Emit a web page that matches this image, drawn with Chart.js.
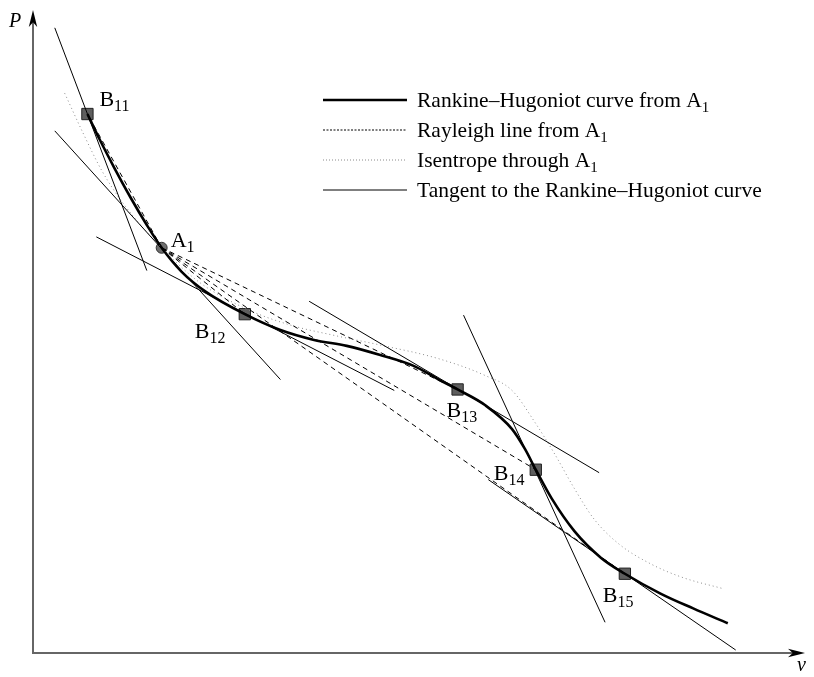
<!DOCTYPE html>
<html>
<head>
<meta charset="utf-8">
<script src="https://cdn.jsdelivr.net/npm/chart.js@4/dist/chart.umd.min.js"></script>
<style>
  html, body { margin: 0; padding: 0; background: #fff; }
  canvas { display: block; }
</style>
</head>
<body>
<canvas id="chart" width="814" height="677"></canvas>
<script>
// P–v plane: specific volume v (horizontal) against pressure P (vertical).

// Rankine–Hugoniot curve centred on A1
const hugoniotV = [5.5, 6.7, 8.2, 9.9, 11.5, 13.0, 15.0, 17.4, 21.4, 25.0, 28.4, 31.7, 35.0, 38.4, 41.0, 42.9, 45.7, 48.4, 49.7, 50.8, 52.4, 54.7, 57.4, 59.8, 63.4, 66.7, 70.2];
const hugoniotP = [54.4, 51.9, 49.0, 45.9, 43.2, 40.9, 38.5, 36.5, 34.2, 32.6, 31.6, 31.0, 30.1, 29.0, 27.6, 26.6, 25.0, 22.6, 20.6, 18.5, 15.6, 12.3, 9.6, 8.0, 6.0, 4.5, 3.0];

// Isentrope through A1
const isentropeV = [3.2, 5.0, 7.0, 9.4, 13.0, 16.7, 21.4, 26.0, 30.7, 35.0, 41.0, 45.7, 48.4, 50.7, 52.7, 54.7, 56.7, 59.2, 62.4, 65.7, 69.7];
const isentropeP = [56.5, 52.6, 48.6, 45.0, 40.9, 37.5, 34.8, 33.1, 32.0, 31.1, 29.7, 28.0, 26.5, 23.3, 20.1, 16.6, 13.5, 11.0, 9.0, 7.6, 6.5];

// Initial state A1
const initialName = 'A_{1}';
const initialV = 13.0;
const initialP = 40.9;

// Shocked states B11 … B15 on the Hugoniot
const shockNames = ['B_{11}', 'B_{12}', 'B_{13}', 'B_{14}', 'B_{15}'];
const shockV = [5.5, 21.4, 42.9, 50.8, 59.8];
const shockP = [54.4, 34.2, 26.6, 18.5, 8.0];

// Tangents to the Hugoniot (A1, B11 … B15): segment end points
const tangentStartV = [2.2, 2.2, 6.4, 27.9, 43.5, 46.0];
const tangentStartP = [52.7, 63.1, 42.0, 35.5, 34.1, 17.5];
const tangentEndV = [25.0, 11.5, 36.5, 57.2, 57.8, 71.0];
const tangentEndP = [27.6, 38.6, 26.5, 18.2, 3.1, 0.3];

// Legend entries
const legendLabels = [
  'Rankine–Hugoniot curve from A_{1}',
  'Rayleigh line from A_{1}',
  'Isentrope through A_{1}',
  'Tangent to the Rankine–Hugoniot curve'
];

// Axis names
const axisNameV = 'v';
const axisNameP = 'P';

// ---- styles ----
const SERIF = '"Liberation Serif", "Times New Roman", serif';
const styleHugoniot = { borderColor: '#000', borderWidth: 2.6, borderDash: [] };
const styleRayleigh = { borderColor: '#000', borderWidth: 1, borderDash: [5, 4] };
const styleIsentrope = { borderColor: '#8a8a8a', borderWidth: 1, borderDash: [1, 3] };
const styleTangent = { borderColor: '#000', borderWidth: 1, borderDash: [] };
const legendDash = [
  styleHugoniot,
  { borderColor: '#000', borderWidth: 1, borderDash: [2, 1.5] },
  { borderColor: '#8a8a8a', borderWidth: 1, borderDash: [1, 2] },
  styleTangent
];
// label anchor offsets in pixels (left edge, baseline) relative to each state
const initialLabelOffset = [9, -1];
const shockLabelOffsets = [[12, -8], [-50, 24], [-11, 28], [-42, 10], [-22, 28]];

const toPoints = (xs, ys) => xs.map((x, i) => ({ x, y: ys[i] }));

const datasets = [];

// tangents
tangentStartV.forEach((v, i) => {
  datasets.push(Object.assign({
    data: [{ x: v, y: tangentStartP[i] }, { x: tangentEndV[i], y: tangentEndP[i] }],
    showLine: true, pointRadius: 0, fill: false
  }, styleTangent));
});

// Rayleigh lines from A1 to every shocked state
shockV.forEach((v, i) => {
  datasets.push(Object.assign({
    data: [{ x: initialV, y: initialP }, { x: v, y: shockP[i] }],
    showLine: true, pointRadius: 0, fill: false
  }, styleRayleigh));
});

// isentrope
datasets.push(Object.assign({
  data: toPoints(isentropeV, isentropeP),
  showLine: true, pointRadius: 0, fill: false,
  cubicInterpolationMode: 'monotone'
}, styleIsentrope));

// Hugoniot
datasets.push(Object.assign({
  data: toPoints(hugoniotV, hugoniotP),
  showLine: true, pointRadius: 0, fill: false,
  cubicInterpolationMode: 'monotone'
}, styleHugoniot));

// shocked states (squares)
datasets.push({
  data: toPoints(shockV, shockP),
  showLine: false,
  pointStyle: 'rect',
  pointRadius: 8,
  pointBackgroundColor: '#5e5e5e',
  pointBorderColor: '#222',
  pointBorderWidth: 1
});

// initial state (disc)
datasets.push({
  data: [{ x: initialV, y: initialP }],
  showLine: false,
  pointStyle: 'circle',
  pointRadius: 5.5,
  pointBackgroundColor: '#6e6e6e',
  pointBorderColor: '#333',
  pointBorderWidth: 1
});

// text with "_{...}" subscripts
function drawRich(ctx, str, x, y, size, subSize, subShift) {
  const parts = str.split(/_\{([^}]*)\}/);
  let cx = x;
  parts.forEach((p, i) => {
    if (!p) return;
    const isSub = i % 2 === 1;
    ctx.font = (isSub ? subSize : size) + 'px ' + SERIF;
    ctx.fillText(p, cx, isSub ? y + subShift : y);
    cx += ctx.measureText(p).width;
  });
  return cx;
}

function arrowHead(ctx, tipX, tipY, dirX, dirY, len, half) {
  const nx = -dirY, ny = dirX;
  const bx = tipX - dirX * len, by = tipY - dirY * len;
  ctx.beginPath();
  ctx.moveTo(tipX, tipY);
  ctx.lineTo(bx + nx * half, by + ny * half);
  ctx.lineTo(tipX - dirX * len * 0.72, tipY - dirY * len * 0.72);
  ctx.lineTo(bx - nx * half, by - ny * half);
  ctx.closePath();
  ctx.fill();
}

const pvDecor = {
  id: 'pvDecor',
  beforeDatasetsDraw(chart) {
    const { ctx, scales: { x, y } } = chart;
    const ox = x.getPixelForValue(0);
    const oy = y.getPixelForValue(0);
    const xEnd = x.getPixelForValue(x.max);
    const yEnd = y.getPixelForValue(y.max);
    ctx.save();
    ctx.strokeStyle = '#666';
    ctx.lineWidth = 2;
    ctx.beginPath();
    ctx.moveTo(ox, oy);
    ctx.lineTo(ox, yEnd + 10);
    ctx.moveTo(ox - 1, oy);
    ctx.lineTo(xEnd - 10, oy);
    ctx.stroke();
    ctx.fillStyle = '#000';
    arrowHead(ctx, ox, yEnd + 1, 0, -1, 17, 4.2);
    arrowHead(ctx, xEnd, oy, 1, 0, 17, 4.2);
    ctx.restore();
  },
  afterDraw(chart) {
    const { ctx, scales: { x, y } } = chart;
    const ox = x.getPixelForValue(0);
    const oy = y.getPixelForValue(0);
    const xEnd = x.getPixelForValue(x.max);
    const yEnd = y.getPixelForValue(y.max);
    ctx.save();
    ctx.fillStyle = '#000';
    ctx.textBaseline = 'alphabetic';

    // axis names
    ctx.font = 'italic 20px ' + SERIF;
    ctx.textAlign = 'left';
    ctx.fillText(axisNameP, ox - 24, yEnd + 18);
    ctx.fillText(axisNameV, xEnd - 8, oy + 18);

    // state labels
    drawRich(ctx, initialName, x.getPixelForValue(initialV) + initialLabelOffset[0],
      y.getPixelForValue(initialP) + initialLabelOffset[1], 22, 16, 5);
    shockNames.forEach((name, i) => {
      const px = x.getPixelForValue(shockV[i]) + shockLabelOffsets[i][0];
      const py = y.getPixelForValue(shockP[i]) + shockLabelOffsets[i][1];
      drawRich(ctx, name, px, py, 22, 16, 5);
    });

    // legend
    const lx0 = 323, lx1 = 407, tx = 417, rowTop = 100, rowGap = 30;
    legendLabels.forEach((label, i) => {
      const ry = rowTop + i * rowGap;
      const st = legendDash[i];
      ctx.strokeStyle = st.borderColor;
      ctx.lineWidth = st.borderWidth;
      ctx.setLineDash(st.borderDash);
      ctx.beginPath();
      ctx.moveTo(lx0, ry);
      ctx.lineTo(lx1, ry);
      ctx.stroke();
      ctx.setLineDash([]);
      drawRich(ctx, label, tx, ry + 7, 21.5, 15, 5);
    });
    ctx.restore();
  }
};

new Chart(document.getElementById('chart'), {
  type: 'scatter',
  data: { datasets },
  options: {
    responsive: false,
    animation: false,
    devicePixelRatio: 1,
    layout: { padding: { left: 33, right: 1, top: 3, bottom: 24 } },
    scales: {
      x: { type: 'linear', min: 0, max: 78, display: false },
      y: { type: 'linear', min: 0, max: 65, display: false }
    },
    plugins: { legend: { display: false }, tooltip: { enabled: false } },
    elements: { line: { tension: 0 } }
  },
  plugins: [pvDecor]
});
</script>
</body>
</html>
